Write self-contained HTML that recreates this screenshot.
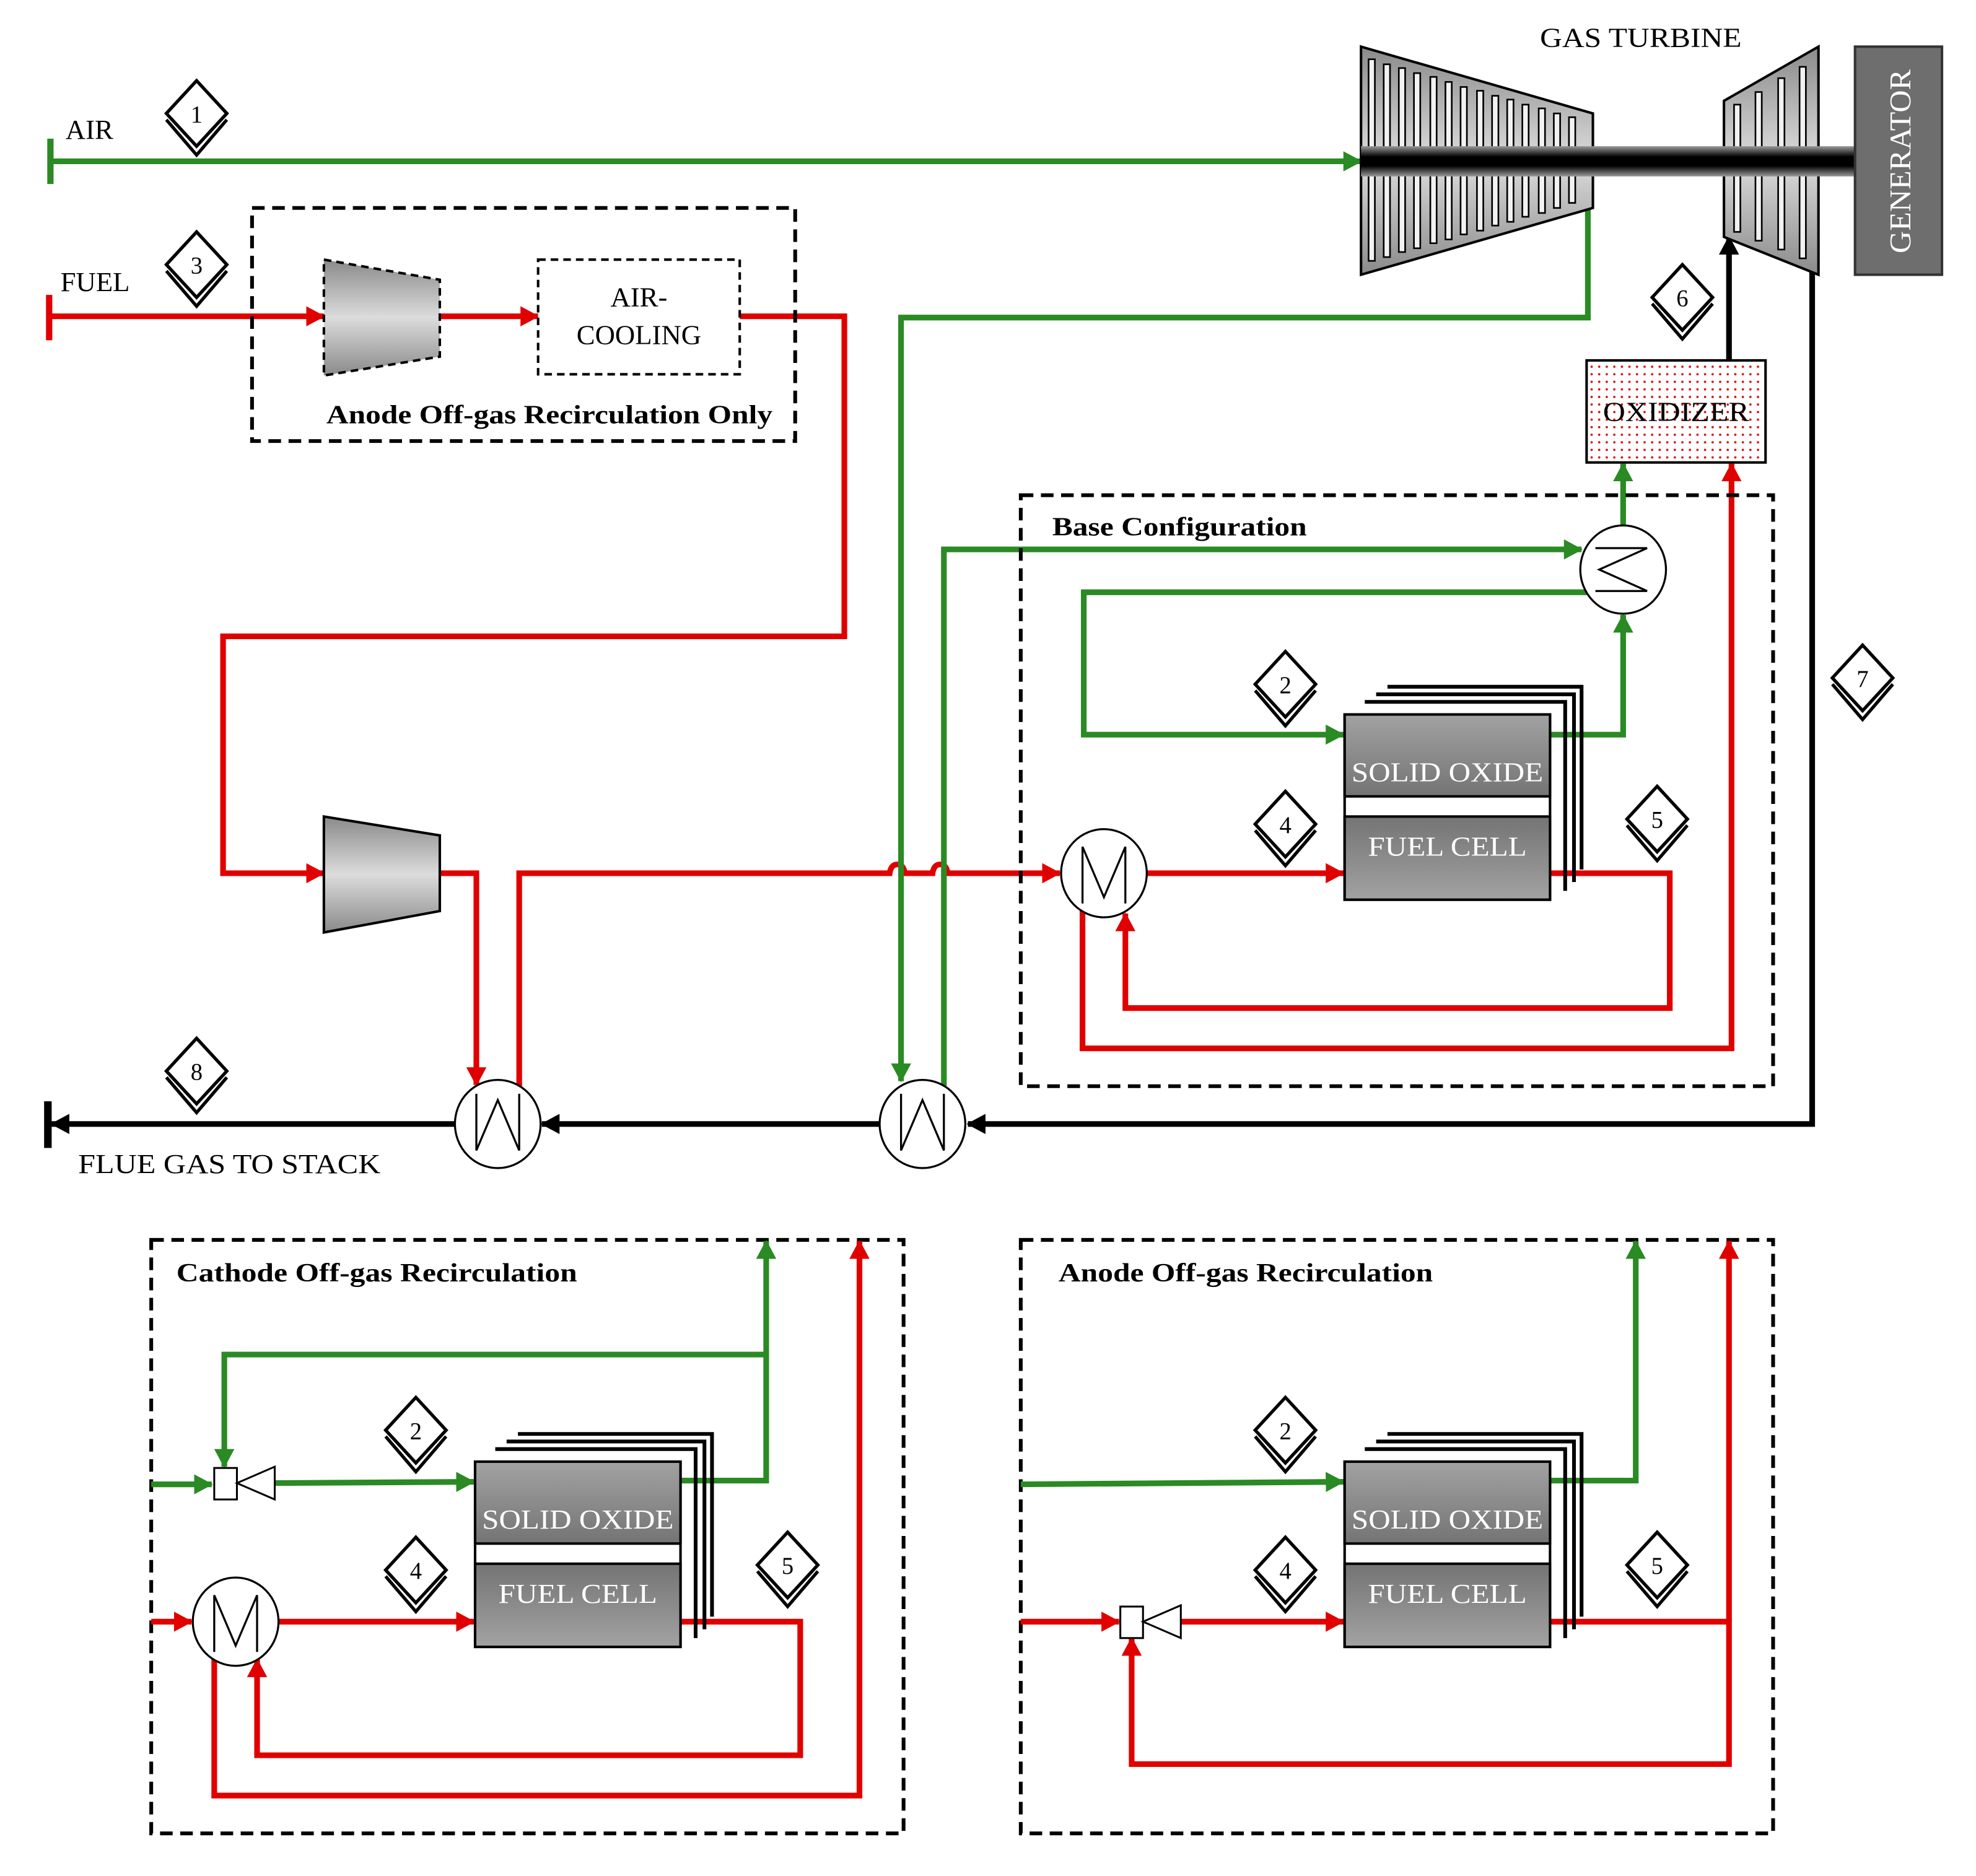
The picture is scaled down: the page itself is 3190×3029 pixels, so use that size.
<!DOCTYPE html>
<html><head><meta charset="utf-8"><style>html,body{margin:0;padding:0;background:#fff}svg{display:block}</style></head>
<body>
<svg xmlns="http://www.w3.org/2000/svg" width="3190" height="3029" viewBox="0 0 1568 1488.8" font-family="Liberation Serif, serif">
<defs>
<marker id="aG" markerUnits="userSpaceOnUse" markerWidth="16" markerHeight="16" refX="14" refY="8" orient="auto"><path d="M0,0L15,8L0,16z" fill="#2a8a23"/></marker>
<marker id="aR" markerUnits="userSpaceOnUse" markerWidth="16" markerHeight="16" refX="14" refY="8" orient="auto"><path d="M0,0L15,8L0,16z" fill="#e00000"/></marker>
<marker id="aK" markerUnits="userSpaceOnUse" markerWidth="16" markerHeight="16" refX="14" refY="8" orient="auto"><path d="M0,0L15,8L0,16z" fill="#000"/></marker>
<linearGradient id="gv" x1="0" y1="0" x2="0" y2="1"><stop offset="0" stop-color="#8a8a8a"/><stop offset="0.5" stop-color="#dcdcdc"/><stop offset="1" stop-color="#8a8a8a"/></linearGradient>
<linearGradient id="gs" x1="0" y1="0" x2="0" y2="1"><stop offset="0" stop-color="#999"/><stop offset="0.35" stop-color="#000"/><stop offset="0.65" stop-color="#000"/><stop offset="1" stop-color="#999"/></linearGradient>
<linearGradient id="gf" x1="0" y1="0" x2="0" y2="1"><stop offset="0" stop-color="#a2a2a2"/><stop offset="1" stop-color="#747474"/></linearGradient>
<linearGradient id="gf2" x1="0" y1="0" x2="0" y2="1"><stop offset="0" stop-color="#747474"/><stop offset="1" stop-color="#a2a2a2"/></linearGradient>
<pattern id="dots" width="6" height="6" patternUnits="userSpaceOnUse"><rect width="6" height="6" fill="#fff"/><circle cx="3" cy="3" r="0.9" fill="#e00000"/></pattern>
<g id="dm"><polyline points="-24,5 0,33 24,5" fill="none" stroke="#000" stroke-width="2.6"/><polygon points="0,-26 24,0 0,26 -24,0" fill="#fff" stroke="#000" stroke-width="2.6"/></g>
<g id="fc">
<polyline points="34,-22 188,-22 188,123" fill="none" stroke="#000" stroke-width="3"/>
<polyline points="25,-16 182,-16 182,133" fill="none" stroke="#000" stroke-width="3"/>
<polyline points="16,-10 175,-10 175,140" fill="none" stroke="#000" stroke-width="3"/>
<rect x="0" y="0" width="163" height="147" fill="#fff" stroke="#000" stroke-width="2"/>
<rect x="0" y="0" width="163" height="65" fill="url(#gf)" stroke="#000" stroke-width="2"/>
<rect x="0" y="81" width="163" height="66" fill="url(#gf2)" stroke="#000" stroke-width="2"/>
<text x="81.5" y="53" font-size="22" fill="#fff" text-anchor="middle" textLength="152" lengthAdjust="spacingAndGlyphs">SOLID OXIDE</text>
<text x="81.5" y="112" font-size="22" fill="#fff" text-anchor="middle" textLength="126" lengthAdjust="spacingAndGlyphs">FUEL CELL</text>
</g>
<g id="hxW"><ellipse cx="0" cy="0" rx="34" ry="35" fill="#fff" stroke="#000" stroke-width="1.6"/><polyline points="-17,-24 -17,21 0,-19 17,21 17,-24" fill="none" stroke="#000" stroke-width="1.6"/></g>
<g id="hxM"><ellipse cx="0" cy="0" rx="34" ry="35" fill="#fff" stroke="#000" stroke-width="1.6"/><polyline points="-17,24 -17,-21 0,19 17,-21 17,24" fill="none" stroke="#000" stroke-width="1.6"/></g>
<g id="mix"><rect x="-9" y="-12" width="18" height="25" fill="#fff" stroke="#000" stroke-width="1.5"/><polygon points="9,0 39,-13 39,13" fill="#fff" stroke="#000" stroke-width="1.5"/></g>
</defs>

<g fill="none" stroke-width="4.5" stroke-linejoin="miter">
<line x1="40" y1="110" x2="40" y2="146" stroke="#2a8a23" stroke-width="5"/>
<line x1="40" y1="128" x2="1080" y2="128" stroke="#2a8a23" marker-end="url(#aG)"/>
<line x1="39" y1="234" x2="39" y2="270" stroke="#e00000" stroke-width="5"/>
<line x1="39" y1="251" x2="257" y2="251" stroke="#e00000" marker-end="url(#aR)"/>
<line x1="349" y1="251" x2="427" y2="251" stroke="#e00000" marker-end="url(#aR)"/>
<polyline points="587,251 670,251 670,505 177,505 177,693 257,693" stroke="#e00000" marker-end="url(#aR)"/>
<polyline points="349,693 378,693 378,861" stroke="#e00000" marker-end="url(#aR)"/>
<path d="M412,866 L412,693 L706,693 Q707,686 712,686 Q717,686 718,693 L740,693 Q741,686 746,686 Q751,686 752,693 L841,693" stroke="#e00000" marker-end="url(#aR)"/>
<polyline points="1260,165 1260,252 715,252 715,858" stroke="#2a8a23" marker-end="url(#aG)"/>
<polyline points="749,862 749,436 1255,436" stroke="#2a8a23" marker-end="url(#aG)"/>
<polyline points="1270,470 860,470 860,583 1066,583" stroke="#2a8a23" marker-end="url(#aG)"/>
<polyline points="1230,583 1288,583 1288,488" stroke="#2a8a23" marker-end="url(#aG)"/>
<line x1="1288" y1="418" x2="1288" y2="368" stroke="#2a8a23" marker-end="url(#aG)"/>
<line x1="910" y1="693" x2="1066" y2="693" stroke="#e00000" marker-end="url(#aR)"/>
<polyline points="1230,693 1325,693 1325,800 893,800 893,725" stroke="#e00000" marker-end="url(#aR)"/>
<polyline points="859,712 859,832 1374,832 1374,368" stroke="#e00000" marker-end="url(#aR)"/>
<line x1="1372" y1="286" x2="1372" y2="188" stroke="#000" marker-end="url(#aK)"/>
<polyline points="1438,210 1438,892 768,892" stroke="#000" marker-end="url(#aK)"/>
<line x1="698" y1="892" x2="430" y2="892" stroke="#000" marker-end="url(#aK)"/>
<line x1="361" y1="892" x2="41" y2="892" stroke="#000" marker-end="url(#aK)"/>
<line x1="38" y1="874" x2="38" y2="911" stroke="#000" stroke-width="6"/>
</g>

<g fill="none" stroke="#000" stroke-width="3" stroke-dasharray="10,6">
<rect x="200" y="165" width="431" height="185"/>
<rect x="810" y="393" width="597" height="469"/>
<rect x="120" y="984" width="597" height="471"/>
<rect x="810" y="984" width="597" height="471"/>
</g>
<rect x="427" y="206" width="160" height="91" fill="#fff" stroke="#000" stroke-width="2" stroke-dasharray="6,4"/>
<text x="507" y="243" font-size="22" text-anchor="middle">AIR-</text>
<text x="507" y="273" font-size="22" text-anchor="middle">COOLING</text>
<text x="436" y="336" font-size="21" font-weight="bold" text-anchor="middle" textLength="354" lengthAdjust="spacingAndGlyphs">Anode Off-gas Recirculation Only</text>
<text x="835" y="425" font-size="21" font-weight="bold" textLength="202" lengthAdjust="spacingAndGlyphs">Base Configuration</text>
<text x="140" y="1017" font-size="21" font-weight="bold" textLength="318" lengthAdjust="spacingAndGlyphs">Cathode Off-gas Recirculation</text>
<text x="840" y="1017" font-size="21" font-weight="bold" textLength="297" lengthAdjust="spacingAndGlyphs">Anode Off-gas Recirculation</text>

<polygon points="257,206 349,222 349,283 257,298" fill="url(#gv)" stroke="#000" stroke-width="2" stroke-dasharray="6,4"/>
<polygon points="257,648 349,663 349,723 257,740" fill="url(#gv)" stroke="#000" stroke-width="2"/>

<polygon points="1080,37 1264,90 1264,165 1080,218" fill="url(#gv)" stroke="#000" stroke-width="2"/>
<g fill="#f2f2f2" stroke="#000" stroke-width="1.3">
<rect x="1086" y="47" width="5" height="160"/><rect x="1098" y="51" width="5" height="153"/>
<rect x="1110" y="54" width="5" height="146"/><rect x="1122" y="58" width="5" height="139"/>
<rect x="1135" y="61" width="5" height="132"/><rect x="1147" y="65" width="5" height="125"/>
<rect x="1159" y="69" width="5" height="117"/><rect x="1172" y="72" width="5" height="111"/>
<rect x="1184" y="76" width="5" height="103"/><rect x="1196" y="79" width="5" height="97"/>
<rect x="1208" y="83" width="5" height="89"/><rect x="1221" y="86" width="5" height="83"/>
<rect x="1233" y="90" width="5" height="75"/><rect x="1245" y="93" width="5" height="68"/>
</g>
<polygon points="1368,80 1443,37 1443,218 1368,188" fill="url(#gv)" stroke="#000" stroke-width="2"/>
<g fill="#f2f2f2" stroke="#000" stroke-width="1.3">
<rect x="1376" y="83" width="5" height="101"/><rect x="1393" y="73" width="5" height="118"/>
<rect x="1411" y="62" width="5" height="136"/><rect x="1428" y="53" width="5" height="152"/>
</g>
<rect x="1080" y="116" width="392" height="24" fill="url(#gs)"/>
<rect x="1472" y="37" width="69" height="181" fill="#6e6e6e" stroke="#333" stroke-width="2"/>
<text transform="translate(1516,128) rotate(-90)" font-size="24" fill="#fff" text-anchor="middle" textLength="146" lengthAdjust="spacingAndGlyphs">GENERATOR</text>
<text x="1302" y="37" font-size="22" text-anchor="middle" textLength="160" lengthAdjust="spacingAndGlyphs">GAS TURBINE</text>

<rect x="1259" y="286" width="142" height="81" fill="url(#dots)" stroke="#000" stroke-width="2"/>
<text x="1330" y="334" font-size="22" text-anchor="middle" textLength="116" lengthAdjust="spacingAndGlyphs">OXIDIZER</text>

<use href="#hxW" x="395" y="892"/>
<use href="#hxW" x="732" y="892"/>
<use href="#hxM" x="876" y="693"/>
<g transform="translate(1288,452)"><ellipse rx="34" ry="35" fill="#fff" stroke="#000" stroke-width="1.6"/><polyline points="-22,-17 19,-17 -19,0 19,17 -22,17" fill="none" stroke="#000" stroke-width="1.6"/></g>

<text x="52" y="110" font-size="22">AIR</text>
<text x="48" y="231" font-size="22">FUEL</text>
<text x="62" y="931" font-size="22" textLength="240" lengthAdjust="spacingAndGlyphs">FLUE GAS TO STACK</text>

<use href="#fc" x="1067" y="567"/>

<g fill="none" stroke-width="4.5">
<line x1="120" y1="1178" x2="168" y2="1178" stroke="#2a8a23" marker-end="url(#aG)"/>
<line x1="218" y1="1177" x2="376" y2="1176" stroke="#2a8a23" marker-end="url(#aG)"/>
<polyline points="541,1175 608,1175 608,985" stroke="#2a8a23" marker-end="url(#aG)"/>
<polyline points="608,1075 178,1075 178,1164" stroke="#2a8a23" marker-end="url(#aG)"/>
<line x1="120" y1="1287" x2="152" y2="1287" stroke="#e00000" marker-end="url(#aR)"/>
<line x1="221" y1="1287" x2="376" y2="1287" stroke="#e00000" marker-end="url(#aR)"/>
<polyline points="541,1287 635,1287 635,1393 204,1393 204,1317" stroke="#e00000" marker-end="url(#aR)"/>
<polyline points="170,1305 170,1425 682,1425 682,985" stroke="#e00000" marker-end="url(#aR)"/>
</g>
<use href="#mix" x="179" y="1177"/>
<use href="#hxM" x="187" y="1287"/>
<use href="#fc" x="377" y="1160"/>

<g fill="none" stroke-width="4.5">
<line x1="810" y1="1178" x2="1066" y2="1176" stroke="#2a8a23" marker-end="url(#aG)"/>
<polyline points="1230,1175 1298,1175 1298,985" stroke="#2a8a23" marker-end="url(#aG)"/>
<line x1="810" y1="1287" x2="888" y2="1287" stroke="#e00000" marker-end="url(#aR)"/>
<line x1="937" y1="1287" x2="1066" y2="1287" stroke="#e00000" marker-end="url(#aR)"/>
<polyline points="1230,1287 1372,1287 1372,1400 898,1400 898,1300" stroke="#e00000" marker-end="url(#aR)"/>
<line x1="1372" y1="1287" x2="1372" y2="985" stroke="#e00000" marker-end="url(#aR)"/>
</g>
<use href="#mix" x="898" y="1287"/>
<use href="#fc" x="1067" y="1160"/>

<g font-size="19" text-anchor="middle">
<use href="#dm" x="156" y="90"/><text x="156" y="97">1</text>
<use href="#dm" x="156" y="210"/><text x="156" y="217">3</text>
<use href="#dm" x="1335" y="236"/><text x="1335" y="243">6</text>
<use href="#dm" x="1478" y="538"/><text x="1478" y="545">7</text>
<use href="#dm" x="1020" y="543"/><text x="1020" y="550">2</text>
<use href="#dm" x="1020" y="654"/><text x="1020" y="661">4</text>
<use href="#dm" x="1315" y="650"/><text x="1315" y="657">5</text>
<use href="#dm" x="156" y="850"/><text x="156" y="857">8</text>
<use href="#dm" x="330" y="1135"/><text x="330" y="1142">2</text>
<use href="#dm" x="330" y="1246"/><text x="330" y="1253">4</text>
<use href="#dm" x="625" y="1242"/><text x="625" y="1249">5</text>
<use href="#dm" x="1020" y="1135"/><text x="1020" y="1142">2</text>
<use href="#dm" x="1020" y="1246"/><text x="1020" y="1253">4</text>
<use href="#dm" x="1315" y="1242"/><text x="1315" y="1249">5</text>
</g>
</svg>
</body></html>
